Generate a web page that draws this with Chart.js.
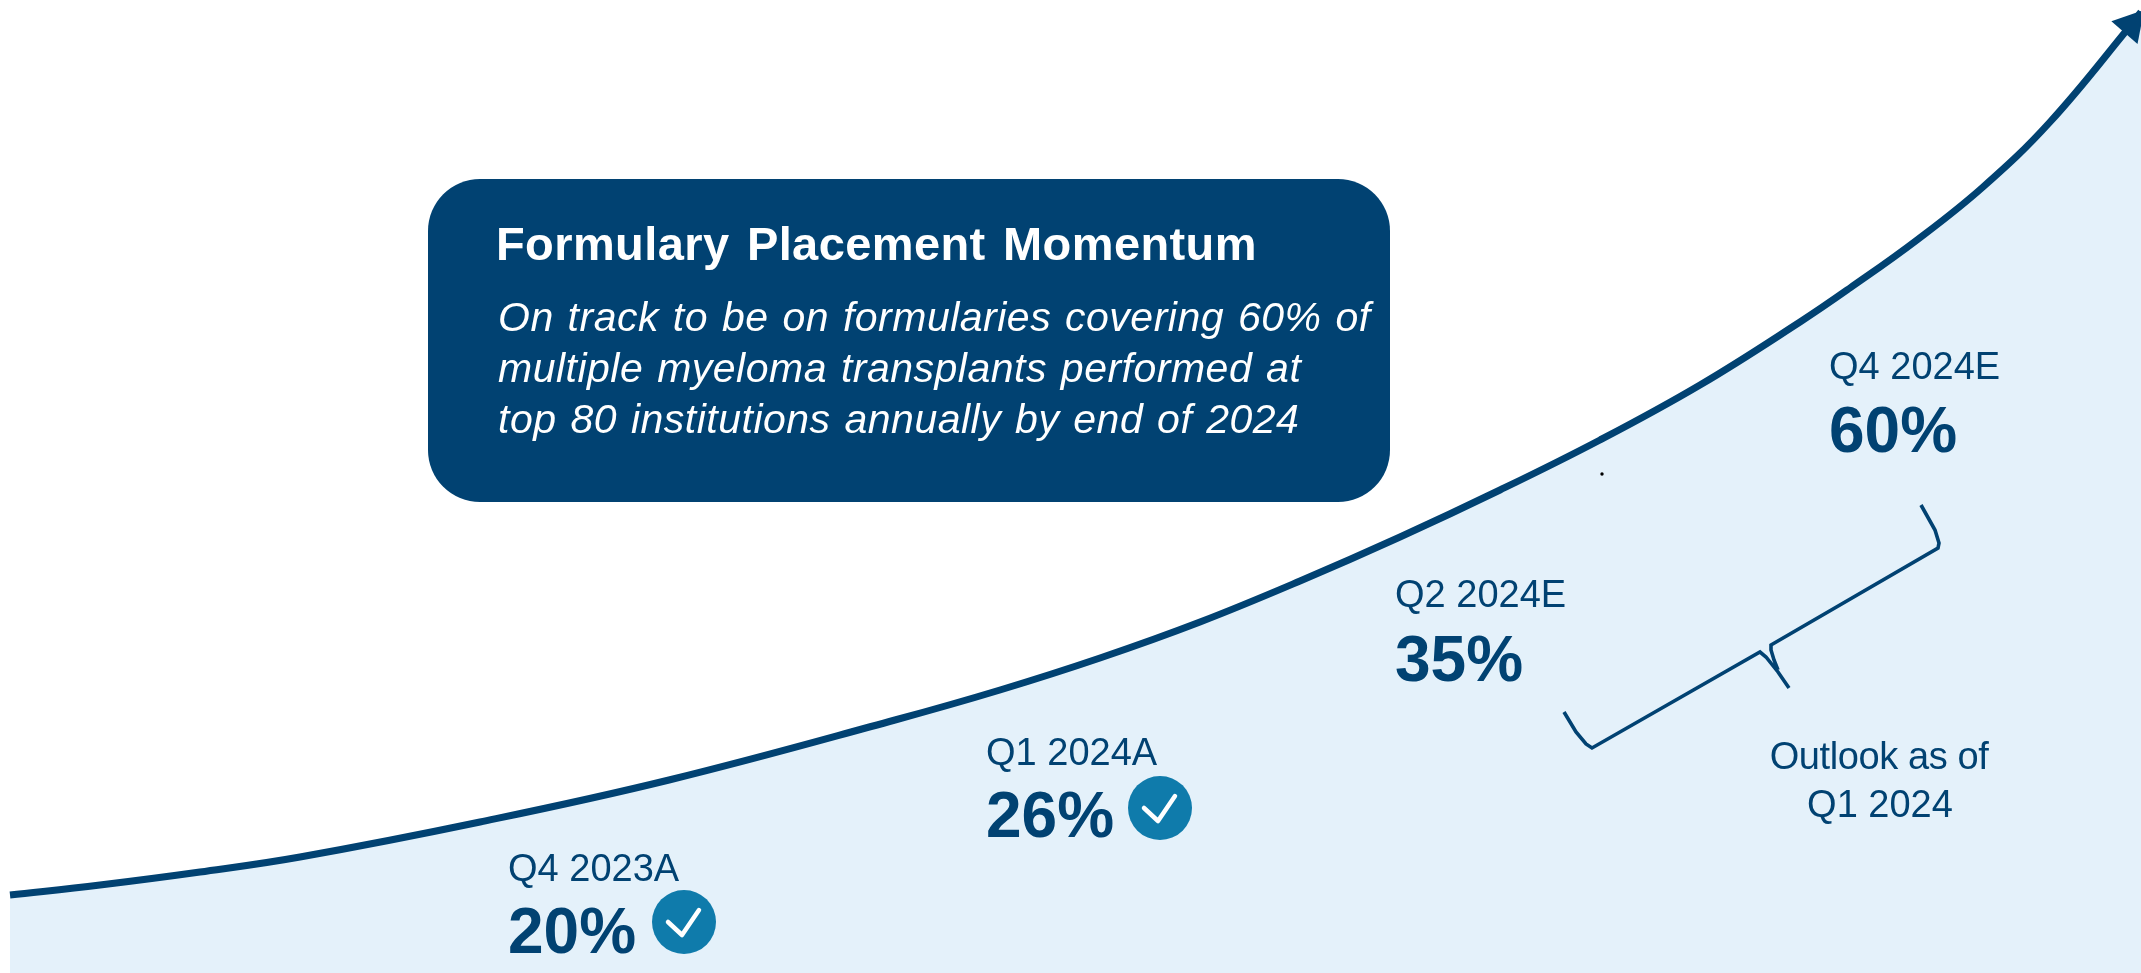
<!DOCTYPE html>
<html>
<head>
<meta charset="utf-8">
<title>Formulary Placement Momentum</title>
<script src="https://cdn.jsdelivr.net/npm/chart.js@4"></script>
<style>
    html, body { margin: 0; padding: 0; background: #fff; overflow: hidden; }
    canvas { display: block; }
</style>
</head>
<body>
<canvas id="MomentumChart" width="2141" height="973"></canvas>
<script>
// Curve (x along, height up from the bottom edge)
const curveX = [10, 100, 200, 300, 480, 669, 895, 1000, 1100, 1200, 1300, 1400, 1500, 1600, 1700, 1800, 1850, 1917, 1983, 2050, 2131, 2141];
const curveHeight = [78, 88, 101, 116, 151, 193, 253, 283, 315, 351, 392, 436, 483, 533, 588, 651, 685, 733, 786, 851, 948, 961];

// Milestones
const quarters = ['Q4 2023A', 'Q1 2024A', 'Q2 2024E', 'Q4 2024E'];
const coverage = [20, 26, 35, 60];
const achieved = [true, true, false, false];

// Outlook bracket
const braceX = [1564, 1576, 1586, 1592, 1760, 1766, 1778, 1789, null, 1778, 1774, 1771, 1771, 1938, 1939, 1935, 1921];
const braceHeight = [261, 241, 229, 225, 321, 316, 301, 285, null, 303, 313, 323, 328, 425, 430, 443, 468];

// Speck next to the curve
const speckX = [1602];
const speckHeight = [499];

const boxTitle = 'Formulary Placement Momentum';
const boxLines = [
    'On track to be on formularies covering 60% of',
    'multiple myeloma transplants performed at',
    'top 80 institutions annually by end of 2024'
];
const outlookLines = ['Outlook as of', 'Q1 2024'];

const navy = '#014272';
const fontName = '"Liberation Sans", Arial, sans-serif';

function toPoints(xs, ys) {
    return xs.map((x, i) => ({ x: x, y: ys[i] }));
}

// Callout box, milestone labels and check badges
const annotations = {
    id: 'annotations',
    afterDatasetsDraw(chart) {
        const { ctx, scales } = chart;
        const px = v => scales.x.getPixelForValue(v);
        const py = v => scales.y.getPixelForValue(973 - v);

        ctx.save();
        ctx.textBaseline = 'alphabetic';

        // callout
        ctx.fillStyle = navy;
        ctx.beginPath();
        ctx.roundRect(px(428), py(179), 962, 323, 52);
        ctx.fill();

        ctx.fillStyle = '#fff';
        ctx.textAlign = 'left';
        ctx.font = 'bold 47px ' + fontName;
        ctx.letterSpacing = '0.4px';
        ctx.wordSpacing = '4px';
        ctx.fillText(boxTitle, px(496), py(260));
        ctx.font = 'italic 41px ' + fontName;
        ctx.letterSpacing = '0.5px';
        ctx.wordSpacing = '2px';
        [331, 382, 433].forEach((y, i) => ctx.fillText(boxLines[i], px(498), py(y)));
        ctx.letterSpacing = '0px';
        ctx.wordSpacing = '0px';

        // milestones
        const labelAt = [[508, 881, 953], [986, 765, 837], [1395, 607, 681], [1829, 379, 452]];
        const badgeAt = [[684, 922], [1160, 808]];
        ctx.fillStyle = navy;
        quarters.forEach((q, i) => {
            const [x, y1, y2] = labelAt[i];
            ctx.font = '38px ' + fontName;
            ctx.fillText(q, px(x), py(y1));
            ctx.font = 'bold 64px ' + fontName;
            ctx.fillText(coverage[i] + '%', px(x), py(y2));
            if (achieved[i]) drawBadge(ctx, px(badgeAt[i][0]), py(badgeAt[i][1]));
        });

        // outlook note
        ctx.textAlign = 'center';
        ctx.font = '38px ' + fontName;
        ctx.letterSpacing = '-0.4px';
        ctx.fillText(outlookLines[0], px(1879), py(769));
        ctx.letterSpacing = '0px';
        ctx.fillText(outlookLines[1], px(1880), py(817));
        ctx.restore();
    }
};

function drawBadge(ctx, x, y) {
    ctx.fillStyle = '#0f7bab';
    ctx.beginPath();
    ctx.arc(x, y, 32, 0, Math.PI * 2);
    ctx.fill();
    ctx.strokeStyle = '#fff';
    ctx.lineWidth = 4.5;
    ctx.lineCap = 'round';
    ctx.lineJoin = 'round';
    ctx.beginPath();
    ctx.moveTo(x - 16, y);
    ctx.lineTo(x - 2, y + 13);
    ctx.lineTo(x + 15, y - 12);
    ctx.stroke();
    ctx.fillStyle = navy;
}

new Chart(document.getElementById('MomentumChart').getContext('2d'), {
    type: 'line',
    data: {
        datasets: [
            {
                label: 'Outlook bracket',
                data: toPoints(braceX, braceHeight),
                borderColor: navy,
                borderWidth: 3.6,
                pointRadius: 0,
                fill: false,
                spanGaps: false
            },
            {
                label: 'Speck',
                data: toPoints(speckX, speckHeight),
                showLine: false,
                pointRadius: 1.7,
                pointBackgroundColor: '#000',
                pointBorderWidth: 0
            },
            {
                label: 'Formulary coverage',
                data: toPoints(curveX, curveHeight),
                borderColor: navy,
                backgroundColor: '#e4f1fa',
                borderWidth: 7,
                fill: 'origin',
                tension: 0.4,
                // arrow head sits on the point before the one at the edge
                pointStyle: 'triangle',
                pointRotation: 41,
                pointRadius: c => c.dataIndex === curveX.length - 2 ? 20 : 0,
                pointBackgroundColor: navy,
                pointBorderWidth: 0
            }
        ]
    },
    options: {
        responsive: false,
        animation: false,
        layout: { padding: 0, autoPadding: false },
        clip: false,
        scales: {
            x: { type: 'linear', min: 0, max: 2141, display: false },
            y: { type: 'linear', min: 0, max: 973, display: false }
        },
        plugins: {
            legend: { display: false },
            tooltip: { enabled: false }
        }
    },
    plugins: [annotations]
});
</script>
</body>
</html>
